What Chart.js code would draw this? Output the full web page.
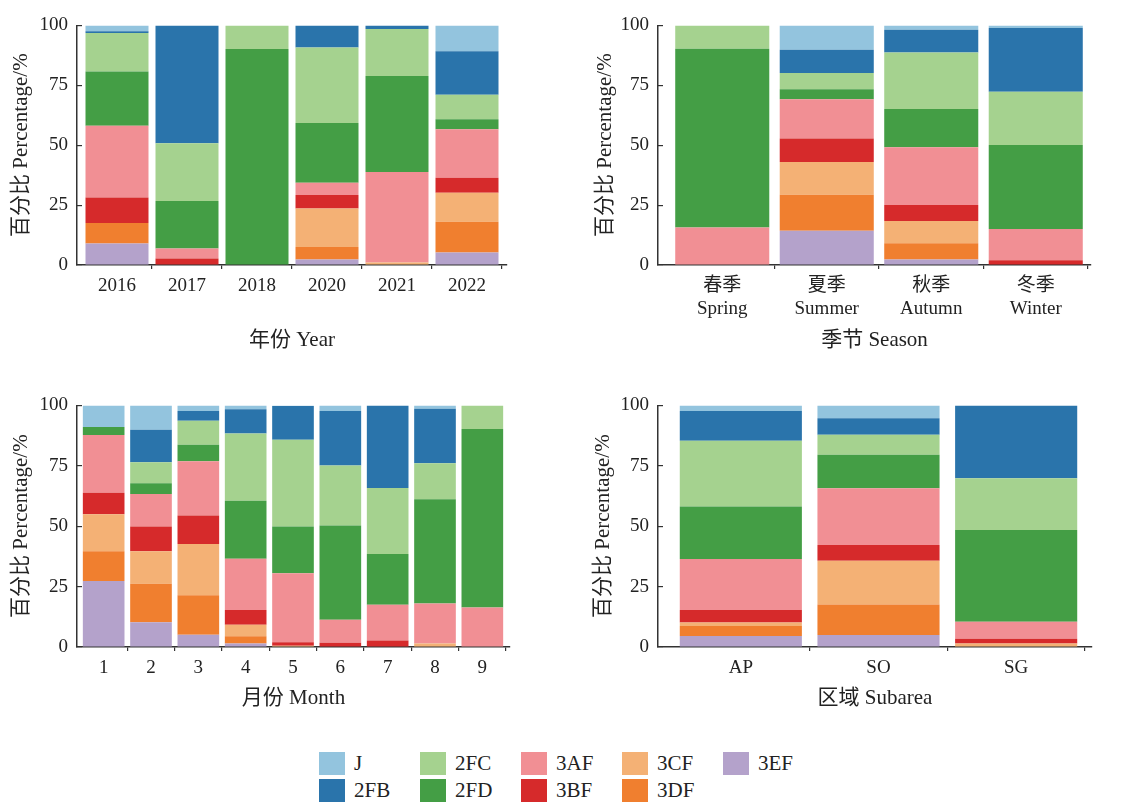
<!DOCTYPE html>
<html><head><meta charset="utf-8">
<script src="https://cdn.jsdelivr.net/npm/chart.js@4/dist/chart.umd.min.js"></script>
<style>
body{margin:0;background:#fff;width:1133px;height:807px;overflow:hidden;position:relative;font-family:"Liberation Serif","Noto Sans CJK SC",serif;}
.panel{position:absolute;}
.leg{position:absolute;display:flex;align-items:center;font-size:21px;color:#222;height:23px;}
.sw{width:26px;height:23px;margin-right:9px;}
</style></head><body>
<div class="panel" style="left:0;top:0"><canvas id="c1" width="540" height="370"></canvas></div>
<div class="panel" style="left:566px;top:0"><canvas id="c2" width="567" height="370"></canvas></div>
<div class="panel" style="left:0;top:380px"><canvas id="c3" width="540" height="350"></canvas></div>
<div class="panel" style="left:566px;top:380px"><canvas id="c4" width="567" height="350"></canvas></div>
<div id="legend"></div>
<script>
// ---- series (legend order) and colours ----
const seriesNames = ['J','2FB','2FC','2FD','3AF','3BF','3CF','3DF','3EF'];
const seriesColors = ['#93c4de','#2a74ab','#a5d28f','#449e45','#f18f94','#d62a2b','#f4b175','#f07f2f','#b4a2cb'];
const yTicks = [0,25,50,75,100];

// ---- Panel 1: year ----
const yearLabels = ['2016','2017','2018','2020','2021','2022'];
const year_J   = [2.4, 0, 0, 0, 0, 10.8];
const year_2FB = [0.8, 49.2, 0, 9.2, 1.5, 18.1];
const year_2FC = [16, 24.1, 9.9, 31.5, 19.6, 10.3];
const year_2FD = [22.7, 19.8, 90.1, 25, 40.1, 4.1];
const year_3AF = [29.9, 4.2, 0, 5.1, 37.8, 20.3];
const year_3BF = [10.7, 2.7, 0, 5.6, 0, 6.2];
const year_3CF = [0, 0, 0, 16.1, 1, 12.2];
const year_3DF = [8.5, 0, 0, 5.2, 0, 12.8];
const year_3EF = [9, 0, 0, 2.3, 0, 5.2];

// ---- Panel 2: season ----
const seasonLabels = [['春季','Spring'],['夏季','Summer'],['秋季','Autumn'],['冬季','Winter']];
const season_J   = [0, 10.2, 1.8, 1.1];
const season_2FB = [0, 9.7, 9.5, 26.6];
const season_2FC = [9.7, 6.8, 23.6, 22.2];
const season_2FD = [74.6, 4.1, 16, 35.1];
const season_3AF = [15.7, 16.4, 24.1, 13];
const season_3BF = [0, 9.8, 6.6, 2.0];
const season_3CF = [0, 13.7, 9.3, 0];
const season_3DF = [0, 15.0, 6.8, 0];
const season_3EF = [0, 14.3, 2.3, 0];

// ---- Panel 3: month ----
const monthLabels = ['1','2','3','4','5','6','7','8','9'];
const month_J   = [8.9, 10.1, 2.3, 1.6, 0.3, 2.3, 0, 1.4, 0];
const month_2FB = [0, 13.4, 4.1, 10, 13.9, 22.6, 34.2, 22.5, 0];
const month_2FC = [0, 8.7, 9.9, 27.9, 35.9, 24.8, 27.3, 14.9, 9.8];
const month_2FD = [3.3, 4.5, 6.8, 24, 19.4, 39, 21, 43.2, 73.8];
const month_3AF = [24, 13.4, 22.5, 21.2, 28.5, 9.5, 14.8, 16.5, 16.4];
const month_3BF = [8.9, 10.3, 11.8, 6.1, 1.5, 1.8, 2.7, 0, 0];
const month_3CF = [15.3, 13.4, 21.2, 4.7, 0.5, 0, 0, 1.5, 0];
const month_3DF = [12.3, 16, 16.3, 3.1, 0, 0, 0, 0, 0];
const month_3EF = [27.3, 10.2, 5.1, 1.4, 0, 0, 0, 0, 0];

// ---- Panel 4: subarea ----
const areaLabels = ['AP','SO','SG'];
const area_J   = [2.3, 5.3, 0];
const area_2FB = [12.3, 6.8, 30.2];
const area_2FC = [27.2, 8.3, 21.4];
const area_2FD = [21.8, 13.9, 37.9];
const area_3AF = [21.1, 23.5, 7.1];
const area_3BF = [5.2, 6.5, 2.0];
const area_3CF = [1.4, 18.1, 1.4];
const area_3DF = [4.1, 12.6, 0];
const area_3EF = [4.6, 5.0, 0];

const FONT = '"Liberation Serif","Noto Sans CJK SC",serif';
const TXT = '#222';
const AX = '#333';

// shifts the category band inward from the axis ends
const insetPlugin = {
  id: 'inset',
  afterLayout(chart, args, o) {
    const s = chart.scales.x;
    s._startPixel += o.l;
    s._length -= (o.l + o.r);
  }
};

function makeChart(id, labels, values, p) {
  // stack from bottom: 3EF ... J
  const datasets = [];
  for (let i = seriesNames.length - 1; i >= 0; i--) {
    datasets.push({
      label: seriesNames[i], data: values[i], backgroundColor: seriesColors[i],
      borderWidth: 0, categoryPercentage: 1, barPercentage: p.bar
    });
  }
  return new Chart(document.getElementById(id), {
    type: 'bar',
    data: { labels, datasets },
    plugins: [insetPlugin],
    options: {
      responsive: false, animation: false,
      layout: { padding: { left: 0, top: p.top, right: p.right, bottom: 0 } },
      plugins: { legend: { display: false }, tooltip: { enabled: false }, inset: { l: p.il, r: p.ir } },
      scales: {
        x: {
          stacked: true, offset: true,
          grid: {
            offset: true, drawOnChartArea: false, tickLength: 4, lineWidth: 1.2,
            color: (c) => (c.index === 0 || c.index === labels.length) ? 'rgba(0,0,0,0)' : AX
          },
          border: { color: AX, width: 1.5 },
          ticks: { color: TXT, font: { family: FONT, size: 19 }, padding: 6, maxRotation: 0, autoSkip: false },
          title: { display: true, text: p.xTitle, color: TXT, font: { family: FONT, size: 21 }, padding: { top: 0, bottom: p.xtb } },
          afterFit(s) { s.height = p.xh; }
        },
        y: {
          stacked: true, min: 0, max: 100,
          afterBuildTicks(s) { s.ticks = yTicks.map(v => ({ value: v })); },
          grid: { drawOnChartArea: false, tickLength: -5, color: AX, lineWidth: 1.2 },
          border: { color: AX, width: 1.5 },
          ticks: { color: TXT, font: { family: FONT, size: 19 }, padding: 14 },
          title: { display: true, text: '百分比 Percentage/%', color: TXT, font: { family: FONT, size: 21 }, padding: { top: p.ytp, bottom: 0 } },
          afterFit(s) { s.width = p.yw; }
        }
      }
    }
  });
}

makeChart('c1', yearLabels,
  [year_J, year_2FB, year_2FC, year_2FD, year_3AF, year_3BF, year_3CF, year_3DF, year_3EF],
  { bar: 0.9, top: 22, right: 33, il: 5, ir: 5, xTitle: '年份 Year', xtb: 17, xh: 105, ytp: 9, yw: 77 });
makeChart('c2', seasonLabels,
  [season_J, season_2FB, season_2FC, season_2FD, season_3AF, season_3BF, season_3CF, season_3DF, season_3EF],
  { bar: 0.9, top: 21, right: 42, il: 12, ir: 3, xTitle: '季节 Season', xtb: 17, xh: 105, ytp: 27, yw: 92 });
makeChart('c3', monthLabels,
  [month_J, month_2FB, month_2FC, month_2FD, month_3AF, month_3BF, month_3CF, month_3DF, month_3EF],
  { bar: 0.88, top: 23, right: 30, il: 3, ir: 4, xTitle: '月份 Month', xtb: 19, xh: 83, ytp: 9, yw: 77 });
makeChart('c4', areaLabels,
  [area_J, area_2FB, area_2FC, area_2FD, area_3AF, area_3BF, area_3CF, area_3DF, area_3EF],
  { bar: 0.887, top: 23, right: 41, il: 14, ir: 7, xTitle: '区域 Subarea', xtb: 19, xh: 83, ytp: 25, yw: 92 });

// ---- legend (2 rows, column-major) ----
const leg = document.getElementById('legend');
seriesNames.forEach((name, i) => {
  const col = Math.floor(i / 2), row = i % 2;
  const d = document.createElement('div');
  d.className = 'leg';
  d.style.left = (319 + col * 101) + 'px';
  d.style.top = (752 + row * 27) + 'px';
  d.innerHTML = '<div class="sw" style="background:' + seriesColors[i] + '"></div><span>' + name + '</span>';
  leg.appendChild(d);
});
</script>
</body></html>
